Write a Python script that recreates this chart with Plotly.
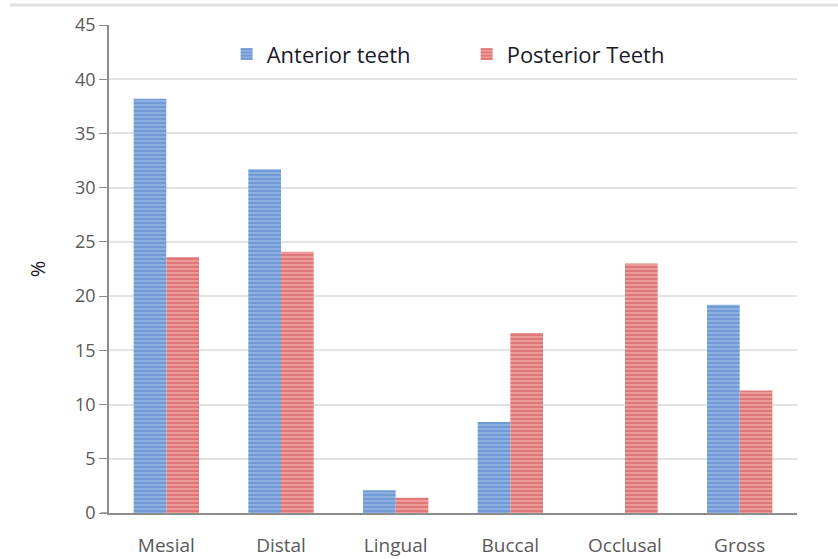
import plotly.graph_objects as go

categories = ["Mesial", "Distal", "Lingual", "Buccal", "Occlusal", "Gross"]
anterior = [38.2, 31.7, 2.1, 8.4, 0, 19.2]
posterior = [23.6, 24.1, 1.4, 16.6, 23.0, 11.3]
y_ticks = [0, 5, 10, 15, 20, 25, 30, 35, 40, 45]

fig = go.Figure()
fig.add_trace(go.Bar(
    x=categories, y=anterior, name="Anterior teeth",
    marker=dict(color="#8AACDD", line=dict(width=0),
                pattern=dict(shape="-", fgcolor="#4F7DC4", bgcolor="#8DB0E2", size=4, solidity=0.45)),
))
fig.add_trace(go.Bar(
    x=categories, y=posterior, name="Posterior Teeth",
    marker=dict(color="#E08A8A", line=dict(width=0),
                pattern=dict(shape="-", fgcolor="#CC4E4E", bgcolor="#EC9A9A", size=4, solidity=0.45)),
))

fig.update_layout(
    width=838, height=559,
    margin=dict(l=109, r=41, t=25, b=46, autoexpand=False),
    paper_bgcolor="white", plot_bgcolor="white",
    barmode="group", bargap=0.43, bargroupgap=0,
    font=dict(family="Open Sans", color="#595959"),
    legend=dict(orientation="h", x=0.171, y=0.94, xanchor="left", yanchor="middle",
                font=dict(size=22, color="#1a1a2a"), itemwidth=30,
                bgcolor="rgba(0,0,0,0)", traceorder="normal", entrywidth=195),
    showlegend=True,
)
fig.update_yaxes(range=[0, 45], tickvals=y_ticks, showgrid=True, gridcolor="#E3E3E3", gridwidth=1.5,
                 showline=True, linecolor="#8C8C8C", linewidth=1.5, ticks="outside", ticklen=8,
                 tickcolor="#8C8C8C", tickfont=dict(size=18, color="#595959"), automargin=False,
                 title=dict(text="%", font=dict(size=20, color="#1a1a2a"), standoff=24), zeroline=False)
fig.update_xaxes(showline=True, linecolor="#8C8C8C", linewidth=1.5, ticks="outside", ticklen=14,
                 tickcolor="rgba(0,0,0,0)", automargin=False,
                 tickfont=dict(size=19, color="#595959"))
fig.add_shape(type="line", xref="paper", yref="paper", x0=-0.144, x1=1.07, y0=1.041, y1=1.041,
              line=dict(color="#E0E0E0", width=3))
fig.add_shape(type="line", xref="paper", yref="paper", x0=-0.012, x1=0, y0=0, y1=0,
              line=dict(color="#8C8C8C", width=1.5))

fig.write_html("out.html", config={"displayModeBar": False},
               post_script="document.body.style.margin='0';document.body.style.overflow='hidden';")
